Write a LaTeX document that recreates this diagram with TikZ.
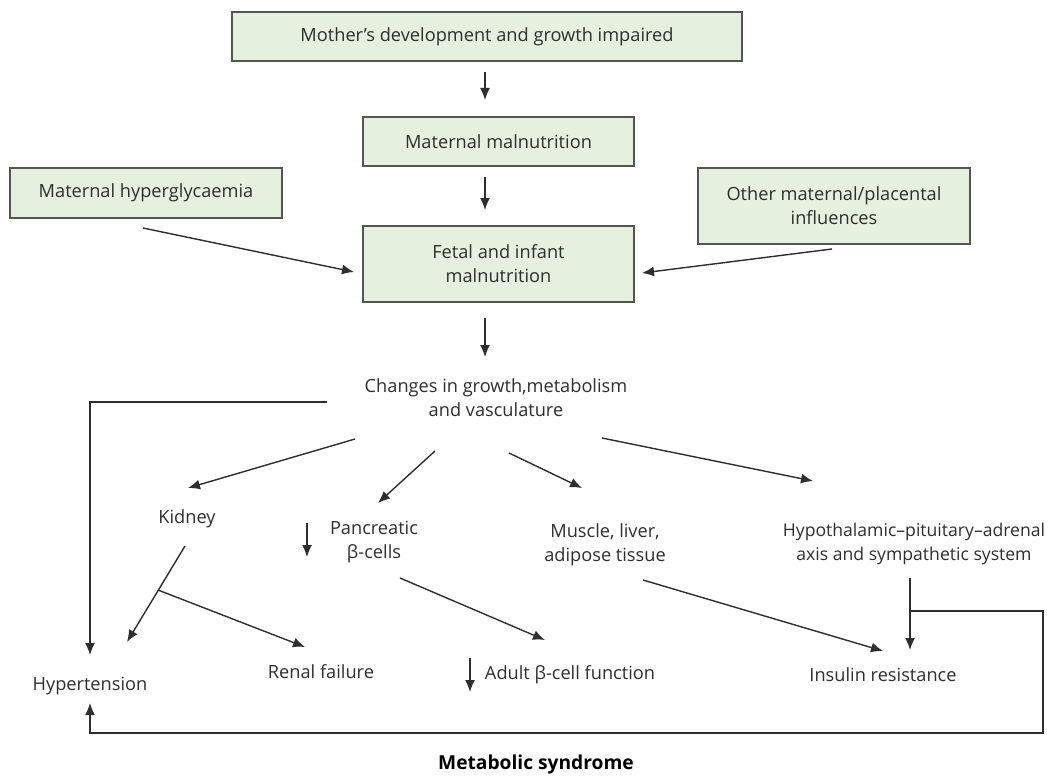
\documentclass[tikz,border=0pt]{standalone}
\usepackage{fontspec}
\setmainfont{Open Sans}
\usepackage{xcolor}
\usepackage{tikz}
\usetikzlibrary{arrows.meta}
\usetikzlibrary{positioning}
\definecolor{boxfill}{HTML}{E6F0DF}
\definecolor{boxline}{HTML}{555555}
\definecolor{txt}{HTML}{2E2E2E}
\tikzset{box/.style={draw=boxline, fill=boxfill, line width=1.3pt, text=txt, align=center, font=\fontsize{18.2}{24}\selectfont}}
\tikzset{lbl/.style={text=txt, align=center, inner sep=0pt, font=\fontsize{18.2}{24}\selectfont}}
\tikzset{ln/.style={draw=txt, line width=1.4pt}}
\tikzset{arr/.style={ln, -{Latex[length=12pt,width=10pt]}}}

\begin{document}
\begin{tikzpicture}[x=1pt,y=-1pt]
\useasboundingbox (0,0) rectangle (1048,778);
\node [box, minimum width=510pt, minimum height=49pt] (m1) at (487,36.5) {Mother’s development and growth impaired};
\node [box, minimum width=271pt, minimum height=49pt] (m2) at (498.5,141.5) {Maternal malnutrition};
\node [box, minimum width=272pt, minimum height=50pt] (hg) at (146,193) {Maternal hyperglycaemia};
\node [box, minimum width=272pt, minimum height=76pt] (op) at (834,206) {Other maternal/placental\\influences};
\node [box, minimum width=271pt, minimum height=76pt] (fi) at (498.5,264) {Fetal and infant\\malnutrition};
\node [lbl] (ch) at (496,398) {Changes in growth,metabolism\\and vasculature};
\node [lbl] (kd) at (187,519) {Kidney};
\node [lbl] (pb) at (374,542) {Pancreatic\\β-cells};
\node [lbl] (ml) at (605,545) {Muscle, liver,\\adipose tissue};
\node [lbl, font=\fontsize{17.6}{24}\selectfont] (hp) at (914,544) {Hypothalamic–pituitary–adrenal\\axis and sympathetic system};
\node [lbl] (ht) at (90,686) {Hypertension};
\node [lbl] (rf) at (321,672) {Renal failure};
\node [lbl] (ab) at (570,675) {Adult β-cell function};
\node [lbl] (ir) at (883,675) {Insulin resistance};
\node [lbl, text=black, font=\fontsize{19.2}{24}\selectfont\bfseries] (ms) at (536,765) {Metabolic syndrome};

\draw [arr] ([shift={(-2,35.5)}]m1.center) -- ([shift={(-13.5,-41.5)}]m2.center);
\draw [arr] ([shift={(-13.5,35.5)}]m2.center) -- ([shift={(-13.5,-54)}]fi.center);
\draw [arr] ([shift={(-3,35)}]hg.center) -- ([shift={(-144.5,8)}]fi.center);
\draw [arr] ([shift={(-2,43)}]op.center) -- ([shift={(143.5,9)}]fi.center);
\draw [arr] ([shift={(-13.5,54)}]fi.center) -- ([shift={(-11,-41)}]ch.center);

\draw [arr] ([shift={(-169,4)}]ch.center) -| ([shift={(0,-31)}]ht.center);
\draw [arr] ([shift={(-141,41)}]ch.center) -- ([shift={(1,-31)}]kd.center);
\draw [arr] ([shift={(-61,53)}]ch.center) -- ([shift={(4,-39)}]pb.center);
\draw [arr] ([shift={(13,55)}]ch.center) -- ([shift={(-23,-57)}]ml.center);
\draw [arr] ([shift={(106,40)}]ch.center) -- ([shift={(-101,-63)}]hp.center);

\draw [arr] ([shift={(-2,27)}]kd.center) -- ([shift={(37,-44)}]ht.center);
\draw [arr] ([shift={(-29,71)}]kd.center) -- ([shift={(-16,-25)}]rf.center);
\draw [arr] ([shift={(-67,-19)}]pb.center) -- ([shift={(-67,15)}]pb.center);
\draw [arr] ([shift={(26,36)}]pb.center) -- ([shift={(-25,-35)}]ab.center);
\draw [arr] ([shift={(-100,-17)}]ab.center) -- ([shift={(-100,17)}]ab.center);
\draw [arr] ([shift={(38,35)}]ml.center) -- ([shift={(0,-24)}]ir.center);
\draw [arr] ([shift={(-4,34)}]hp.center) -- ([shift={(27,-25)}]ir.center);
\draw [arr] ([shift={(-4,67)}]hp.center) -- ++(133,0) -- ++(0,122) -| ([shift={(0,17)}]ht.center);
\end{tikzpicture}
\end{document}
